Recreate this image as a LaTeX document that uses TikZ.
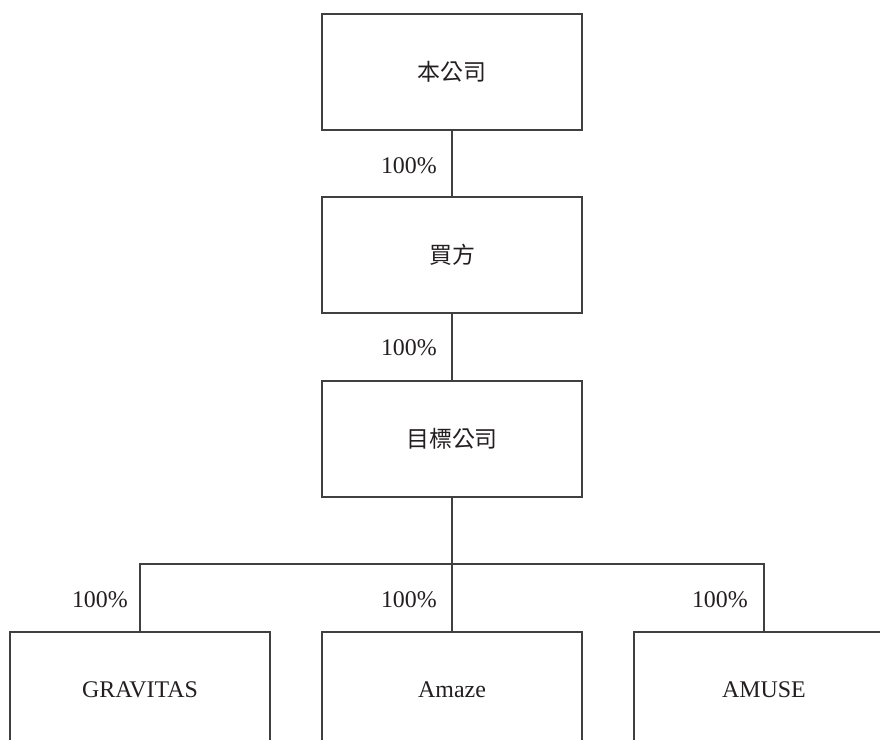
\documentclass[tikz,border=0pt]{standalone}
\usepackage{fontspec}
\setmainfont{Liberation Serif}
\newfontfamily\cjk{Noto Sans CJK TC}
\definecolor{ink}{HTML}{231F20}
\definecolor{rule}{HTML}{404040}
\begin{document}
\begin{tikzpicture}[x=1bp,y=-1bp,
  every node/.style={text=ink,font=\fontsize{24}{28}\selectfont},
  entity/.style={draw=rule,line width=1.15bp,minimum width=260bp,minimum height=116bp,inner sep=0pt},
  link/.style={draw=rule,line width=1.15bp},
  pct/.style={anchor=east,inner sep=0pt}]
\useasboundingbox (0,0) rectangle (880,740);
\node[entity] (top) at (452,72) {\cjk\fontsize{23}{28}\selectfont 本公司};
\node[entity] (buyer) at (452,255) {\cjk\fontsize{23}{28}\selectfont 買方};
\node[entity] (tgt) at (452,439) {\cjk\fontsize{23}{28}\selectfont 目標公司};
\node[entity] (gv) at (140,690) {GRAVITAS};
\node[entity] (am) at (452,690) {Amaze};
\node[entity] (mu) at (764,690) {AMUSE};
\coordinate (busL) at (140,564);
\coordinate (busM) at (452,564);
\coordinate (busR) at (764,564);
\draw[link] (top) -- (buyer);
\draw[link] (buyer) -- (tgt);
\draw[link] (tgt.south) -- (busM);
\draw[link] (gv.north) -- (busL) -- (busR) -- (mu.north);
\draw[link] (busM) -- (am.north);
\node[pct] (p1) at (437,166) {100\%};
\node[pct] (p2) at (437,348) {100\%};
\node[pct] (p3) at (128,600) {100\%};
\node[pct] (p4) at (437,600) {100\%};
\node[pct] (p5) at (748,600) {100\%};
\end{tikzpicture}
\end{document}
